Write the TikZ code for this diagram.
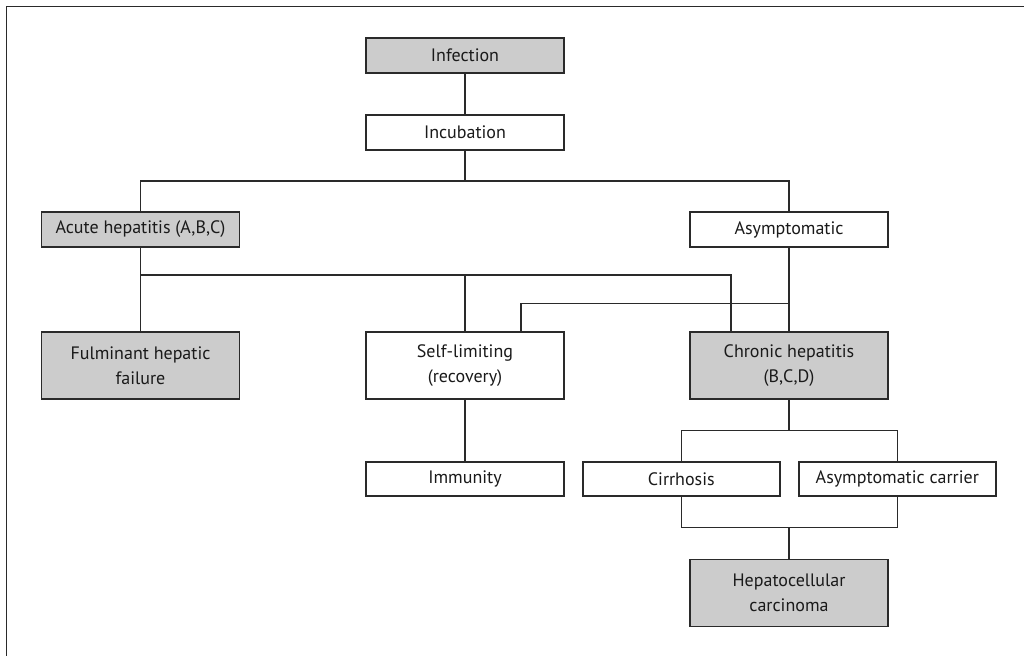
\documentclass[tikz,border=0pt]{standalone}
\usepackage{fontspec}
\setmainfont{PT Sans}
\definecolor{boxgray}{HTML}{CCCCCC}
\definecolor{linec}{HTML}{2A2A2A}
\definecolor{textc}{HTML}{1A1A1A}
\begin{document}
\begin{tikzpicture}[x=1pt,y=-1pt,
  box/.style={draw=linec, line width=1.5pt, fill=white, text=textc, inner sep=0pt,
    minimum width=198pt, align=center, font=\fontsize{18}{25}\selectfont},
  single/.style={box, minimum height=35pt},
  double/.style={box, minimum height=67pt},
  shaded/.style={fill=boxgray},
  conn/.style={draw=linec, line width=1.5pt}]
\useasboundingbox (0,0) rectangle (1024,656);
\draw[linec, line width=1.6pt] (1024,6.5) -- (6.5,6.5) -- (6.5,656);

\node[single, shaded] (inf) at (465,55.5) {Infection};
\node[single] (inc) at (465,132.5) {Incubation};
\node[single, shaded] (acute) at (140.5,229.5) {Acute hepatitis (A,B,C)};
\node[single] (asym) at (789,229.5) {Asymptomatic};
\node[double, shaded] (fulm) at (140.5,365.5) {Fulminant hepatic\\failure};
\node[double] (self) at (465,365.5) {Self-limiting\\(recovery)};
\node[double, shaded] (chron) at (789,365.5) {Chronic hepatitis\\(B,C,D)};
\node[single, minimum height=34pt] (imm) at (465,479) {Immunity};
\node[single, minimum height=34pt, minimum width=197pt] (cirr) at (681.3,479) {Cirrhosis};
\node[single, minimum height=34pt, minimum width=197pt] (carr) at (897.3,479) {Asymptomatic carrier};
\node[double, shaded] (hcc) at (789,592.8) {Hepatocellular\\carcinoma};

\coordinate (j1) at (465,181);
\coordinate (j2) at (140.5,275);
\coordinate (j3) at (789,303.7);
\coordinate (j4) at (789,430.7);
\coordinate (j5) at (789,527.3);

\draw[conn] (inf.south) -- (inc.north);
\draw[conn] (inc.south) -- (j1);
\draw[conn] (acute.north) |- (j1) -| (asym.north);
\draw[conn] (acute.south) -- (fulm.north);
\draw[conn] (j2) -| ([xshift=-58pt]chron.north);
\draw[conn] (self.north) -- (self.north |- j2);
\draw[conn] (asym.south) -- (chron.north);
\draw[conn] ([xshift=56pt]self.north) |- (j3);
\draw[conn] (self.south) -- (imm.north);
\draw[conn] (chron.south) -- (j4);
\draw[conn] (cirr.north) |- (j4) -| (carr.north);
\draw[conn] (cirr.south) |- (j5) -| (carr.south);
\draw[conn] (j5) -- (hcc.north);
\end{tikzpicture}
\end{document}
